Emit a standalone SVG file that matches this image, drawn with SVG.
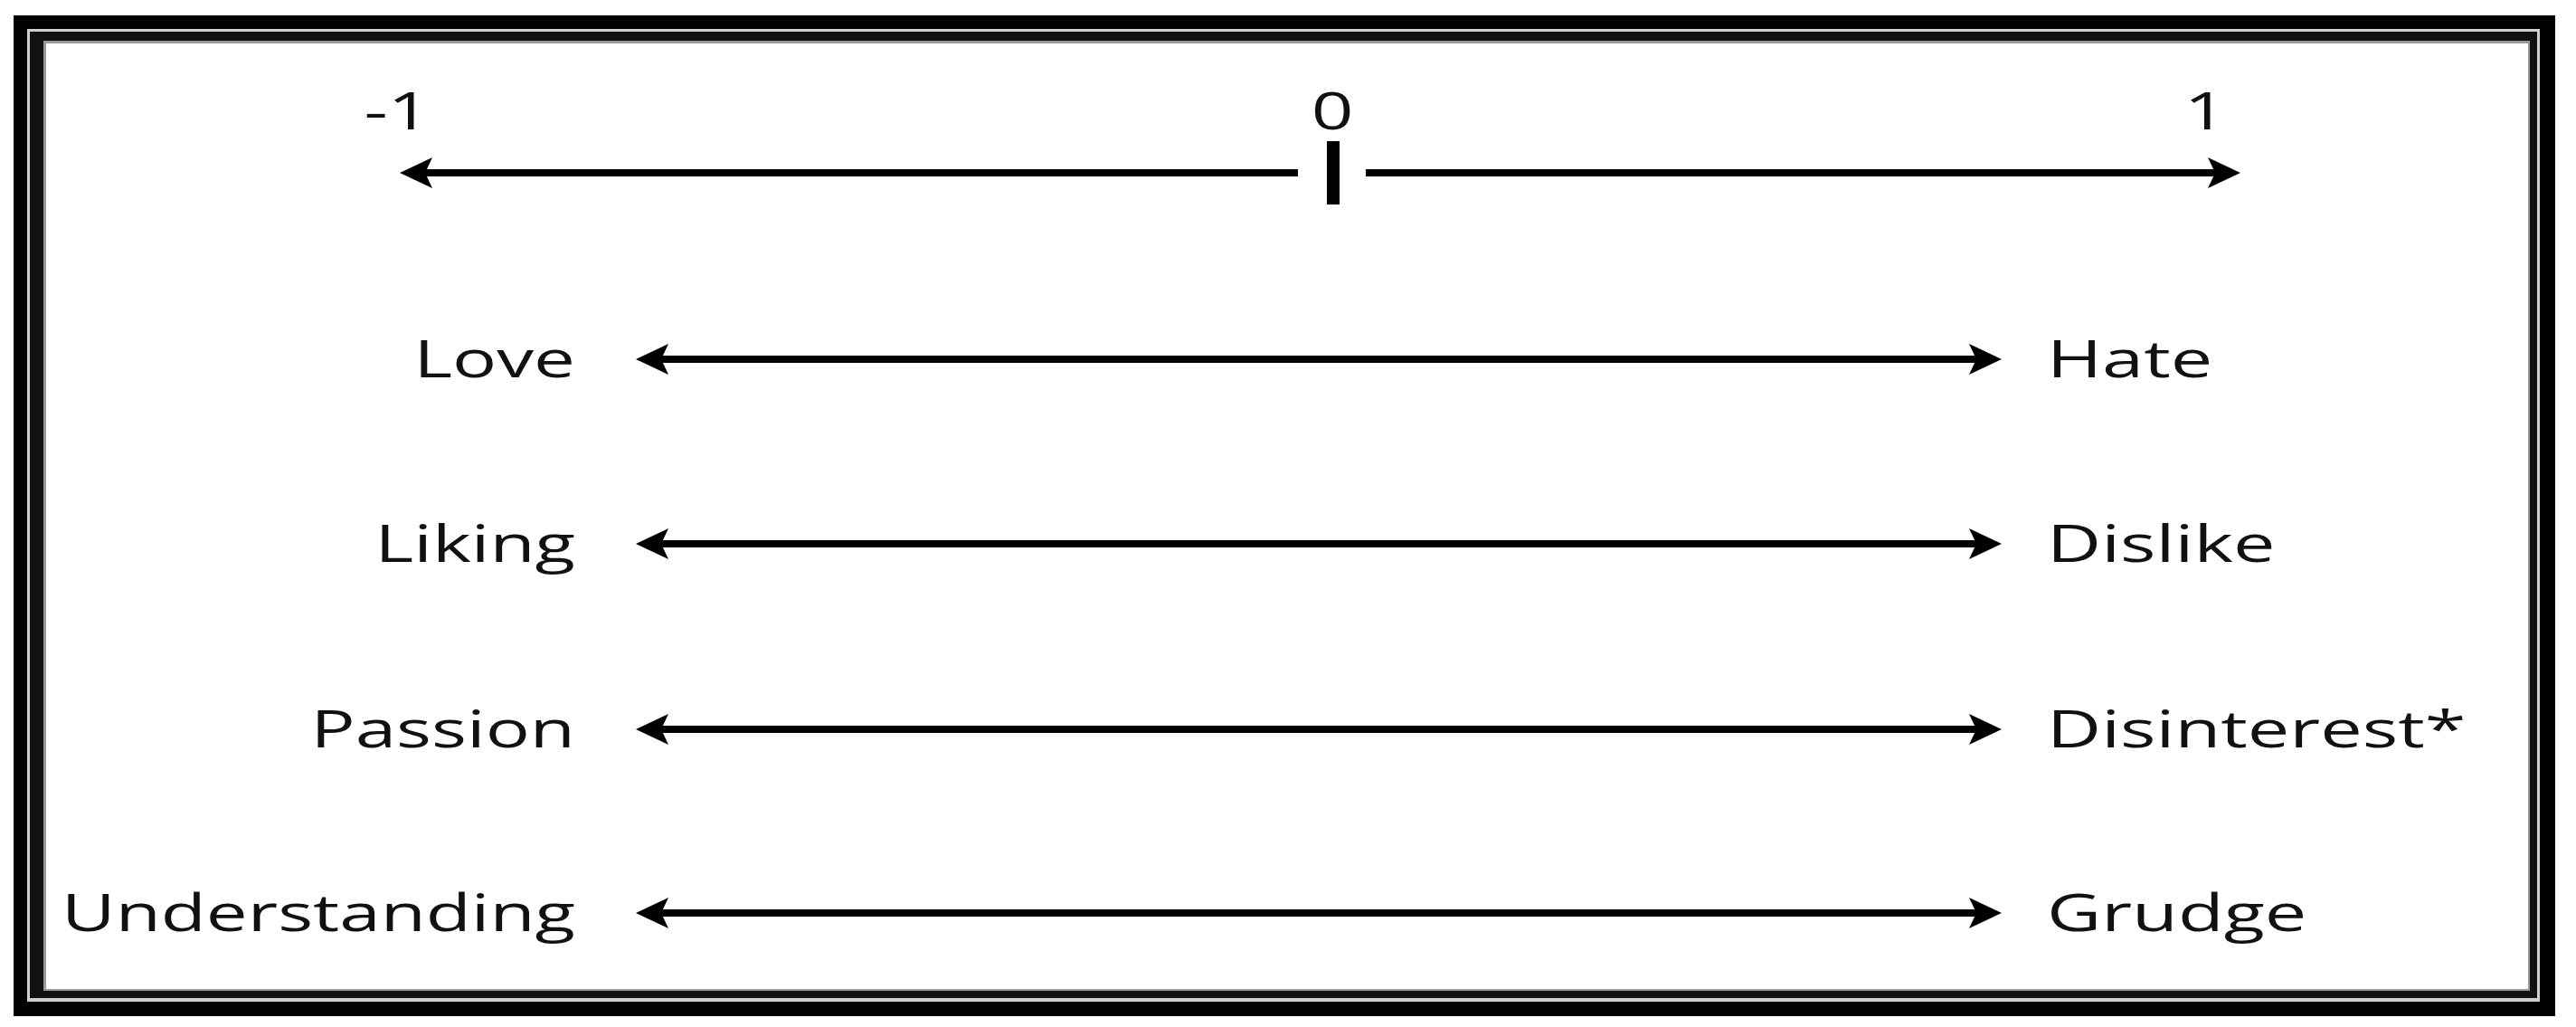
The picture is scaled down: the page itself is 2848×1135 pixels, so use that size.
<svg xmlns="http://www.w3.org/2000/svg" width="2848" height="1135" viewBox="0 0 2848 1135">
<style>
.t{font-family:"Open Sans","Liberation Sans",sans-serif;font-size:56px;fill:#111}
.l{stroke:#000;stroke-width:8;fill:none}
</style>
<defs>
<marker id="ah" markerUnits="userSpaceOnUse" markerWidth="40" markerHeight="36" viewBox="0 0 40 36" refX="18" refY="18" orient="auto-start-reverse">
<path d="M38,18 L2,1 L10,18 L2,35 Z" fill="#000"/>
</marker>
</defs>
<rect width="2848" height="1135" fill="#fff"/>
<g id="frame">
<rect x="15" y="17" width="2810" height="1106" fill="#000"/>
<rect x="30" y="32" width="2778" height="1075" fill="#d0d0d0"/>
<rect x="33" y="35" width="2772" height="1068" fill="#111"/>
<rect x="48" y="45" width="2749" height="1050" fill="#999"/>
<rect x="51" y="48" width="2744" height="1045" fill="#fff"/>
</g>
<g id="connectors">
<line class="l" x1="462" y1="191" x2="1435" y2="191" marker-start="url(#ah)"/>
<line class="l" x1="1510" y1="191" x2="2457" y2="191" marker-end="url(#ah)"/>
<rect x="1467" y="156" width="14" height="70" fill="#000"/>
<line class="l" x1="723" y1="397" x2="2193" y2="397" marker-start="url(#ah)" marker-end="url(#ah)"/>
<line class="l" x1="723" y1="601" x2="2193" y2="601" marker-start="url(#ah)" marker-end="url(#ah)"/>
<line class="l" x1="723" y1="806" x2="2193" y2="806" marker-start="url(#ah)" marker-end="url(#ah)"/>
<line class="l" x1="723" y1="1009" x2="2193" y2="1009" marker-start="url(#ah)" marker-end="url(#ah)"/>
</g>
<g id="scale-labels">
<text class="t" text-anchor="middle" transform="translate(439,143) scale(1.46,1)">-1</text>
<text class="t" text-anchor="middle" transform="translate(1473,143) scale(1.46,1)">0</text>
<text class="t" text-anchor="middle" transform="translate(2438,143) scale(1.46,1)">1</text>
</g>
<g id="node-love"><text class="t" text-anchor="end" transform="translate(636,417) scale(1.46,1)">Love</text></g>
<g id="node-hate"><text class="t" transform="translate(2263,417) scale(1.48,1)">Hate</text></g>
<g id="node-liking"><text class="t" text-anchor="end" transform="translate(636,621) scale(1.46,1)">Liking</text></g>
<g id="node-dislike"><text class="t" transform="translate(2263,621) scale(1.48,1)">Dislike</text></g>
<g id="node-passion"><text class="t" text-anchor="end" transform="translate(636,826) scale(1.46,1)">Passion</text></g>
<g id="node-disinterest"><text class="t" transform="translate(2263,826) scale(1.48,1)">Disinterest*</text></g>
<g id="node-understanding"><text class="t" text-anchor="end" transform="translate(636,1029) scale(1.46,1)">Understanding</text></g>
<g id="node-grudge"><text class="t" transform="translate(2263,1029) scale(1.48,1)">Grudge</text></g>
</svg>
